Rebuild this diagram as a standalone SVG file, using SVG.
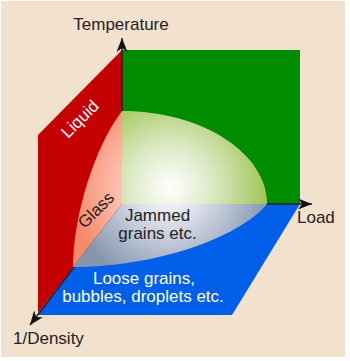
<svg xmlns="http://www.w3.org/2000/svg" width="350" height="361" viewBox="0 0 350 361">
  <style>
    .lbl { font-family: "Liberation Sans", Arial, sans-serif; font-size: 17px; fill: #222; }
    .wht { fill: #ffffff; }
    .axis { stroke: #1e1e1e; stroke-width: 1.5; fill: none; }
  </style>
  <defs>
    <marker id="arr" markerUnits="userSpaceOnUse" markerWidth="16" markerHeight="12" viewBox="-15 -6 16 12" refX="0" refY="0" orient="auto">
      <path d="M0,0 L-14,-5.5 L-10,0 L-14,5.5 Z" fill="#111"/>
    </marker>
    <radialGradient id="gGreen" gradientUnits="userSpaceOnUse" cx="170" cy="187" r="95">
      <stop offset="0" stop-color="#ffffff"/>
      <stop offset="0.45" stop-color="#dbe9c4"/>
      <stop offset="1" stop-color="#a3c65a"/>
    </radialGradient>
    <radialGradient id="gPink" gradientUnits="userSpaceOnUse" cx="170" cy="187" r="100">
      <stop offset="0" stop-color="#ffffff"/>
      <stop offset="0.45" stop-color="#ffc6b8"/>
      <stop offset="1" stop-color="#f58a6a"/>
    </radialGradient>
    <radialGradient id="gGray" gradientUnits="userSpaceOnUse" cx="170" cy="187" r="100">
      <stop offset="0" stop-color="#ffffff"/>
      <stop offset="0.35" stop-color="#dcdfea"/>
      <stop offset="1" stop-color="#8695af"/>
    </radialGradient>
  </defs>

  <rect x="0" y="0" width="350" height="361" fill="#ffffff"/>
  <rect x="1" y="1" width="344" height="356" fill="#f2e1cc"/>

  <g id="wall-load">
    <rect x="122" y="50" width="178" height="154" fill="#008c00"/>
  </g>
  <g id="wall-density">
    <polygon points="122,50 38,135 38,313 122,204" fill="#c40000"/>
  </g>
  <g id="floor">
    <polygon points="122,204 300,204 232,315 38,315" fill="#005fe8"/>
  </g>

  <g id="connectors">
    <line class="axis" x1="122" y1="204" x2="122" y2="38" marker-end="url(#arr)"/>
    <line class="axis" x1="122" y1="204" x2="312" y2="204" marker-end="url(#arr)"/>
    <line class="axis" x1="122" y1="204" x2="30" y2="325" marker-end="url(#arr)"/>
  </g>

  <g id="region-green">
    <path d="M122,204 L122,111 C202,111 267,153 267,204 Z" fill="url(#gGreen)"/>
  </g>
  <g id="region-glass">
    <path d="M122,204 L122,111 C95,146 73,215.6 73,267 Z" fill="url(#gPink)"/>
    <text class="lbl" x="100" y="214" text-anchor="middle" transform="rotate(-45 100 214)">Glass</text>
  </g>
  <g id="region-jammed">
    <path d="M122,204 L73,267 C153,267 238,239 267,204 Z" fill="url(#gGray)"/>
    <text class="lbl" x="157.5" y="221" text-anchor="middle">Jammed</text>
    <text class="lbl" x="157.5" y="239" text-anchor="middle">grains etc.</text>
  </g>
  <g id="label-liquid">
    <text class="lbl wht" x="84" y="123" text-anchor="middle" transform="rotate(-45 84 123)">Liquid</text>
  </g>
  <g id="label-loose">
    <text class="lbl wht" x="144" y="284" text-anchor="middle">Loose grains,</text>
    <text class="lbl wht" x="143" y="302" text-anchor="middle">bubbles, droplets etc.</text>
  </g>
  <g id="axis-labels">
    <text class="lbl" x="121" y="30" text-anchor="middle">Temperature</text>
    <text class="lbl" x="297" y="223">Load</text>
    <text class="lbl" x="13" y="344">1/Density</text>
  </g>
</svg>
